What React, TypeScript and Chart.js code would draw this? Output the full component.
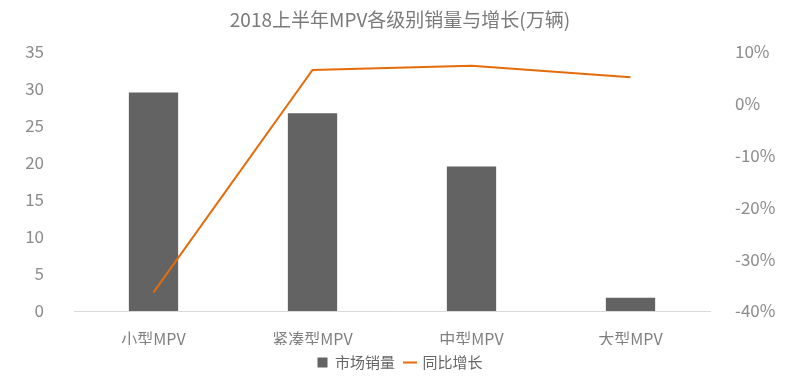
import React, { useEffect, useRef } from "react";
import { Chart, registerables } from "chart.js";

Chart.register(...registerables);

const categories = ["小型MPV", "紧凑型MPV", "中型MPV", "大型MPV"];
const salesValues = [29.5, 26.7, 19.5, 1.8];
const growthValues = [-36.4, 6.5, 7.3, 5.1];
const titleText = "2018上半年MPV各级别销量与增长(万辆)";
const salesLabel = "市场销量";
const growthLabel = "同比增长";

const FONT = "'Noto Sans CJK SC', 'Noto Sans', sans-serif";

export default function App() {
  const ref = useRef<HTMLCanvasElement | null>(null);

  useEffect(() => {
    document.body.style.margin = "0";
    const canvas = ref.current;
    if (!canvas) return;
    const chart = new Chart(canvas, {
      data: {
        labels: categories,
        datasets: [
          {
            type: "line",
            label: growthLabel,
            data: growthValues,
            yAxisID: "y1",
            borderColor: "#E46C0A",
            backgroundColor: "#E46C0A",
            borderWidth: 2,
            pointRadius: 0,
            tension: 0,
            order: 1,
          },
          {
            type: "bar",
            label: salesLabel,
            data: salesValues,
            yAxisID: "y",
            backgroundColor: "#636363",
            borderWidth: 0,
            barPercentage: 0.31,
            categoryPercentage: 1,
            order: 2,
          },
        ],
      },
      options: {
        responsive: false,
        animation: false,
        layout: { padding: { left: 0, right: 0, top: 0, bottom: 0 } },
        plugins: {
          title: {
            display: true,
            text: titleText,
            color: "#7a7a7a",
            font: { family: FONT, size: 19, weight: "normal" },
            padding: { top: 8, bottom: 21 },
          },
          legend: {
            position: "bottom",
            labels: {
              color: "#666666",
              font: { family: FONT, size: 15 },
              boxWidth: 10,
              boxHeight: 10,
              padding: 10,
              generateLabels: (c: any) => {
                const ds = c.data.datasets;
                const order = [1, 0];
                return order.map((i) => ({
                  text: ds[i].label,
                  fillStyle: ds[i].backgroundColor,
                  strokeStyle: ds[i].type === "line" ? ds[i].borderColor : ds[i].backgroundColor,
                  lineWidth: ds[i].type === "line" ? 2 : 0,
                  pointStyle: ds[i].type === "line" ? "line" : "rect",
                  datasetIndex: i,
                  hidden: false,
                  fontColor: "#666666",
                }));
              },
              usePointStyle: true,
            },
          },
          tooltip: { enabled: false },
        },
        scales: {
          x: {
            grid: { display: false },
            border: { display: true, color: "#d9d9d9", width: 1 },
            ticks: {
              color: "#7f7f7f",
              font: { family: FONT, size: 16 },
              padding: 10,
            },
            afterFit: (s: any) => {
              s.height = 34;
            },
          },
          y: {
            position: "left",
            min: 0,
            max: 35,
            grid: { display: false },
            border: { display: false },
            ticks: {
              stepSize: 5,
              color: "#8c8c8c",
              font: { family: FONT, size: 17 },
              padding: 22,
            },
            afterFit: (s: any) => {
              s.width = 74;
            },
          },
          y1: {
            position: "right",
            min: -40,
            max: 10,
            grid: { display: false },
            border: { display: false },
            ticks: {
              stepSize: 10,
              color: "#8c8c8c",
              font: { family: FONT, size: 17 },
              padding: 17,
              callback: (v: any) => `${v}%`,
            },
            afterFit: (s: any) => {
              s.width = 90;
            },
          },
        },
      },
    } as any);
    return () => chart.destroy();
  }, []);

  return (
    <div style={{ width: 800, height: 380, background: "#ffffff" }}>
      <canvas ref={ref} width={800} height={380} />
    </div>
  );
}
